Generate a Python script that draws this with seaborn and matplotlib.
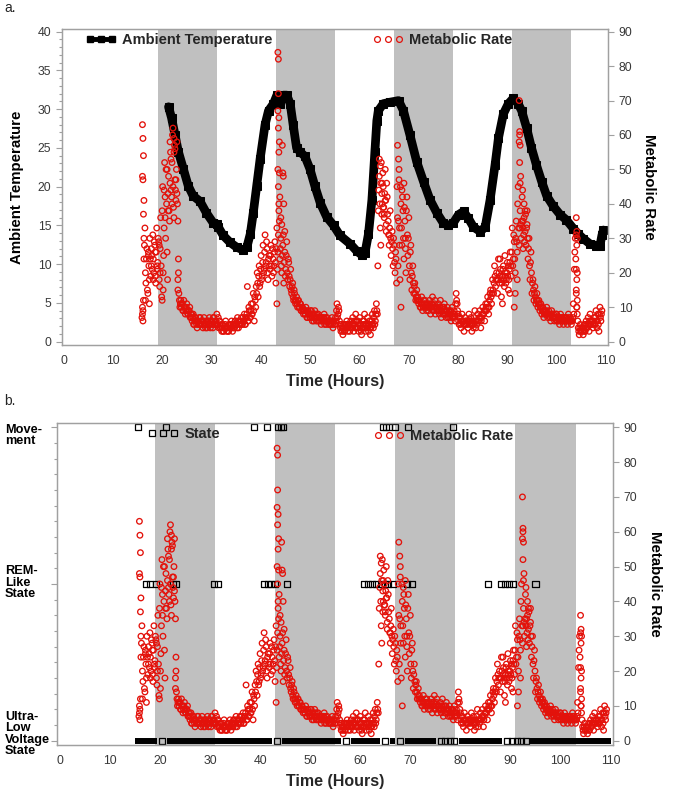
import numpy as np
import matplotlib
matplotlib.use("Agg")
import matplotlib.pyplot as plt
import matplotlib.ticker as mticker
from matplotlib.lines import Line2D
from matplotlib.transforms import blended_transform_factory
import seaborn as sns

# ---------------- data ----------------
night_starts = [19, 43, 67, 91]
night_length = 12

temp_time = [21.2, 21.8, 22.5, 23.2, 24.2, 25.2, 26.2, 27.6, 28.9, 30.3, 31.0, 31.3, 32.3, 33.7, 35.0,
             36.4, 37.1, 37.8, 38.4, 39.1, 39.8, 40.8, 41.5, 42.5, 43.2, 43.8, 44.5, 45.2, 45.9, 46.5,
             47.2, 47.9, 48.9, 49.9, 50.9, 52.0, 53.3, 54.7, 56.0, 58.1, 59.4, 60.4, 61.1, 61.8, 62.5,
             63.1, 63.5, 63.8, 64.8, 66.2, 67.9, 68.9, 70.2, 71.6, 73.0, 74.3, 75.7, 77.0, 78.0, 79.0,
             80.1, 81.1, 82.1, 83.1, 84.5, 85.5, 86.5, 87.5, 88.2, 89.2, 90.2, 91.2, 92.2, 92.9, 93.9,
             94.9, 95.9, 97.0, 98.0, 99.3, 100.7, 102.0, 103.4, 104.4, 105.4, 106.8, 108.1, 108.8, 109.2, 109.5]
temp_value = [30.3, 28.9, 26.7, 24.5, 22.3, 20.1, 18.8, 18.1, 16.6, 15.3, 15.2, 14.8, 13.7, 12.8, 12.2,
              11.8, 12.2, 13.9, 16.6, 20.1, 23.6, 28.0, 29.8, 30.7, 31.8, 30.7, 31.8, 31.8, 30.7, 28.0,
              25.0, 24.5, 23.9, 22.3, 20.1, 17.9, 16.1, 15.0, 13.7, 12.6, 11.7, 11.2, 11.5, 13.9, 18.3,
              24.5, 28.5, 29.8, 30.7, 30.9, 31.1, 29.8, 26.7, 23.2, 20.6, 18.3, 16.6, 15.3, 15.0, 15.3,
              16.4, 16.8, 15.9, 14.8, 14.2, 14.8, 18.3, 22.8, 26.3, 29.4, 30.7, 31.4, 30.7, 29.8, 27.6,
              25.0, 22.8, 20.6, 18.8, 17.5, 16.4, 15.7, 14.6, 13.9, 13.3, 12.6, 12.4, 12.4, 13.7, 14.4]

# metabolic rate, regular samples: series A starts at 15.8 h, series B at 15.9 h, both every 0.2 h
mr_step = 0.2
mr_start_a = 15.8
mr_values_a = [
    7, 9, 24, 33, 17, 27, 14, 22, 30, 19,
    25, 31, 20, 28, 17, 33, 23, 29, 16, 36,
    13, 45, 25, 52, 30, 40, 18, 48, 35, 55,
    42, 60, 39, 57, 44, 50, 40, 24, 12, 11,
    10, 11, 9, 10, 8, 10, 9, 8, 9, 7,
    7, 6, 8, 5, 7, 6, 4, 6, 5, 7,
    5, 6, 4, 7, 5, 6, 4, 6, 5, 6,
    5, 6, 4, 7, 5, 6, 8, 5, 4, 6,
    4, 3, 5, 3, 4, 6, 3, 4, 3, 5,
    4, 6, 3, 5, 4, 6, 5, 7, 4, 6,
    5, 7, 5, 6, 8, 5, 7, 16, 6, 9,
    7, 11, 8, 14, 6, 12, 16, 20, 13, 22,
    17, 25, 19, 28, 21, 31, 23, 27, 18, 25,
    21, 28, 19, 24, 22, 29, 17, 33, 26, 40,
    24, 30, 20, 28, 17, 26, 21, 29, 18, 23,
    16, 21, 14, 17, 12, 14, 11, 13, 10, 12,
    10, 11, 9, 10, 8, 9, 8, 9, 7, 8,
    8, 7, 9, 6, 8, 7, 8, 6, 7, 8,
    6, 7, 5, 7, 6, 8, 6, 5, 7, 6,
    5, 6, 5, 7, 4, 6, 5, 6, 11, 8,
    9, 5, 3, 4, 2, 5, 3, 4, 6, 3,
    5, 3, 6, 4, 7, 3, 5, 8, 4, 6,
    3, 7, 5, 2, 6, 4, 8, 3, 5, 7,
    3, 6, 2, 5, 8, 4, 9, 6, 11, 8,
    38, 48, 33, 52, 40, 45, 36, 50, 32, 42,
    35, 28, 38, 25, 32, 22, 28, 20, 24, 45,
    22, 50, 18, 40, 28, 38, 24, 35, 20, 42,
    25, 36, 18, 28, 15, 22, 14, 17, 12, 15,
    13, 11, 12, 10, 13, 9, 12, 10, 11, 9,
    11, 9, 12, 8, 10, 13, 9, 11, 8, 10,
    9, 11, 8, 12, 7, 10, 8, 11, 9, 7,
    10, 7, 9, 8, 6, 10, 7, 9, 6, 14,
    11, 8, 5, 7, 4, 8, 6, 3, 7, 5,
    6, 4, 8, 5, 7, 3, 6, 5, 9, 4,
    5, 8, 6, 9, 4, 7, 10, 8, 6, 11,
    9, 13, 8, 12, 15, 11, 18, 14, 22, 16,
    20, 14, 24, 17, 21, 13, 19, 22, 16, 20,
    18, 23, 15, 21, 26, 19, 33, 24, 29, 20,
    35, 26, 45, 28, 38, 30, 42, 27, 36, 32,
    28, 38, 24, 30, 18, 26, 14, 18, 12, 16,
    11, 14, 10, 12, 9, 11, 8, 10, 7, 9,
    8, 10, 7, 9, 8, 6, 9, 7, 8, 6,
    7, 8, 6, 7, 5, 8, 6, 7, 5, 7,
    6, 7, 5, 8, 6, 7, 5, 6, 11, 21,
    30, 14, 8, 4, 2, 5, 3, 4, 2, 5,
    3, 6, 4, 7, 3, 8, 5, 6, 4, 7,
    5, 9, 4, 8, 3, 10, 6, 9,
]
mr_start_b = 15.9
mr_values_b = [
    8, 12, 28, 20, 24, 15, 26, 18, 24, 27,
    21, 24, 29, 19, 26, 22, 30, 18, 27, 22,
    38, 20, 44, 36, 50, 26, 43, 38, 58, 44,
    52, 45, 55, 47, 41, 58, 35, 14, 10, 12,
    11, 9, 12, 10, 9, 11, 8, 9, 10, 8,
    8, 7, 5, 6, 7, 5, 6, 5, 7, 5,
    6, 5, 6, 5, 4, 5, 6, 5, 7, 4,
    6, 5, 7, 5, 6, 5, 5, 7, 6, 4,
    5, 4, 3, 4, 5, 4, 4, 3, 5, 4,
    5, 4, 5, 4, 6, 5, 4, 6, 5, 5,
    6, 5, 7, 6, 5, 7, 8, 6, 10, 7,
    9, 8, 11, 9, 13, 10, 14, 17, 19, 16,
    21, 18, 23, 20, 26, 22, 29, 20, 24, 22,
    25, 22, 27, 20, 26, 23, 27, 21, 31, 35,
    27, 22, 25, 31, 23, 19, 25, 20, 24, 19,
    18, 15, 16, 13, 15, 12, 12, 11, 12, 10,
    11, 9, 10, 9, 9, 8, 10, 7, 9, 8,
    7, 9, 7, 8, 6, 9, 7, 8, 6, 7,
    7, 6, 7, 6, 7, 5, 7, 6, 6, 5,
    6, 5, 6, 5, 6, 5, 7, 9, 7, 10,
    6, 4, 5, 3, 4, 3, 5, 5, 4, 5,
    4, 5, 4, 5, 5, 6, 4, 6, 6, 4,
    5, 4, 3, 4, 5, 6, 5, 5, 4, 5,
    5, 4, 4, 6, 5, 7, 5, 8, 9, 22,
    44, 40, 46, 37, 49, 39, 43, 41, 46, 37,
    31, 33, 30, 29, 27, 30, 23, 26, 17, 36,
    35, 28, 45, 33, 42, 30, 39, 27, 38, 31,
    30, 22, 26, 20, 19, 17, 16, 14, 13, 12,
    12, 12, 10, 11, 11, 10, 11, 12, 10, 10,
    10, 10, 11, 10, 11, 9, 10, 12, 10, 9,
    10, 9, 10, 9, 9, 8, 10, 9, 8, 9,
    8, 8, 7, 9, 8, 7, 8, 8, 11, 12,
    9, 6, 7, 5, 6, 6, 5, 5, 6, 6,
    5, 6, 6, 6, 5, 5, 4, 7, 6, 6,
    6, 6, 7, 7, 6, 8, 8, 9, 9, 10,
    11, 10, 10, 14, 13, 14, 15, 17, 19, 18,
    18, 18, 20, 19, 18, 17, 21, 18, 19, 17,
    20, 19, 18, 23, 22, 26, 22, 31, 24, 30,
    29, 40, 33, 33, 34, 35, 33, 31, 29, 37,
    33, 30, 27, 22, 23, 20, 17, 15, 14, 13,
    12, 12, 11, 11, 10, 10, 9, 9, 8, 8,
    9, 8, 8, 8, 7, 8, 8, 7, 7, 7,
    8, 6, 7, 6, 7, 6, 7, 6, 6, 6,
    7, 6, 6, 7, 6, 6, 6, 7, 8, 26,
    24, 10, 6, 3, 4, 3, 4, 3, 4, 3,
    5, 4, 5, 5, 6, 5, 6, 5, 6, 5,
    7, 6, 6, 5, 8, 7, 8,
]

# extra readings inside the dense bursts: (time h, metabolic rate)
mr_burst_16 = [(15.9, 63), (16.0, 59), (16.1, 54), (15.9, 48), (16.0, 47), (16.2, 41), (16.1, 37),
               (15.9, 10), (16.0, 6), (16.2, 30), (16.5, 12), (17.1, 25), (17.3, 11), (17.7, 22),
               (18.1, 18), (18.5, 26), (18.9, 21), (19.3, 28), (19.5, 20)]
mr_burst_22 = [(19.9, 12), (20.1, 15), (20.3, 33), (20.5, 42), (20.9, 50), (21.1, 38), (21.5, 46),
               (21.7, 53), (22.1, 62), (22.3, 59), (22.5, 56), (22.7, 47), (22.9, 43), (22.3, 36),
               (21.9, 40), (23.1, 18), (23.1, 15), (23.2, 20)]
mr_burst_43 = [(43.2, 11), (43.4, 84), (43.5, 82), (43.5, 72), (43.4, 67), (43.6, 65), (43.5, 62),
               (43.7, 58), (43.6, 55), (43.4, 50), (43.7, 49), (43.5, 45), (43.8, 42), (43.6, 38),
               (44.0, 36), (44.3, 57), (44.4, 49), (44.5, 48), (44.6, 40), (44.2, 34), (44.8, 32)]
mr_burst_65 = [(64.0, 53), (64.2, 51), (64.3, 28), (64.6, 46), (64.8, 39), (65.0, 37), (65.2, 41),
               (65.4, 34), (64.5, 43), (66.0, 31), (67.7, 57), (67.9, 53), (68.0, 47), (68.1, 33),
               (68.4, 10), (68.6, 44), (69.0, 46), (69.3, 30)]
mr_burst_92 = [(88.5, 24), (89.0, 11), (89.5, 25), (90.5, 14), (90.2, 22), (91.4, 10), (91.6, 14),
               (92.0, 18), (92.4, 70), (92.5, 61), (92.5, 60), (92.4, 58), (92.6, 57), (92.5, 52),
               (92.7, 48), (92.6, 46), (93.1, 44), (93.4, 40), (93.6, 38), (93.2, 35), (94.0, 34)]
mr_burst_104 = [(104.0, 36), (104.1, 32), (104.0, 31), (104.2, 30), (104.1, 28), (104.0, 21),
                (104.2, 20), (104.1, 18), (104.0, 15), (104.2, 12), (104.1, 10)]

# sleep / activity states
movement_times = [15.6, 21.2, 38.8, 41.3, 43.6, 44.1, 44.6, 64.5, 65.1, 65.7, 66.9, 69.5, 78.5]
rem_times = [17.2, 18.0, 19.2, 22.6, 23.3, 30.8, 31.6, 40.8, 41.5, 42.2, 43.0, 45.3,
             60.7, 61.5, 62.4, 63.2, 64.1, 64.9, 65.6, 66.5, 69.3, 70.4,
             85.5, 88.1, 88.9, 89.7, 90.5, 95.0]
ulv_spans = [(15.0, 19.5), (21.5, 42.4), (44.3, 56.1), (58.1, 64.0), (66.0, 67.0), (69.0, 75.2),
             (79.8, 88.3), (94.0, 110.0)]
ulv_single = [20.5, 43.35, 57.1, 65.0, 68.0, 76.1, 77.0, 77.9, 78.8, 89.3, 90.3, 91.3, 92.2, 93.1]
state_level = {"Movement": 2, "REM": 1, "ULV": 0}
state_labels = ["Move-\nment", "REM-\nLike\nState", "Ultra-\nLow\nVoltage\nState"]

# ---------------- assemble ----------------
mr_t = list(mr_start_a + mr_step * np.arange(len(mr_values_a)))
mr_t += list(mr_start_b + mr_step * np.arange(len(mr_values_b)))
mr_v = list(mr_values_a) + list(mr_values_b)
for burst in [mr_burst_16, mr_burst_22, mr_burst_43, mr_burst_65, mr_burst_92, mr_burst_104]:
    mr_t += [p[0] for p in burst]
    mr_v += [p[1] for p in burst]

# ---------------- style ----------------
sns.set_style("white")
plt.rcParams["font.family"] = ["Liberation Sans", "DejaVu Sans"]

W, H = 674, 793
fig = plt.figure(figsize=(W / 100, H / 100), dpi=100)

RED = "#e3120b"
BAND = "#c0c0c0"
SPINE = "#a0a0a0"
TICKLBL = "#383838"
LBL = dict(fontsize=10.8, fontweight="bold", color="black")


def style_axis(ax):
    for s in ax.spines.values():
        s.set_color(SPINE)
        s.set_linewidth(0.9)
    ax.tick_params(which="both", direction="out", color=SPINE, labelcolor=TICKLBL,
                   labelsize=8.8, width=0.8)
    ax.tick_params(which="major", length=4)
    ax.tick_params(which="minor", length=2)


mr_kw = dict(marker="o", s=16, facecolors="none", edgecolor=RED, linewidth=0.95, legend=False)

# ================= panel a =================
ax1 = fig.add_axes([61.7 / W, 1 - 345 / H, 546.6 / W, 316 / H])
ax1r = ax1.twinx()
for s in night_starts:
    ax1.axvspan(s, s + night_length, color=BAND, lw=0, zorder=0)

sns.lineplot(x=temp_time, y=temp_value, ax=ax1, estimator=None, sort=False, color="black",
             linewidth=6.3, marker="s", markersize=5.5, markeredgecolor="black", legend=False)
sns.scatterplot(x=mr_t, y=mr_v, ax=ax1r, **mr_kw)

ax1.set_xlim(-0.5, 110.5)
ax1.set_ylim(-0.43, 40.34)
ax1r.set_ylim(-0.97, 90.77)
ax1.xaxis.set_major_locator(mticker.MultipleLocator(10))
ax1.xaxis.set_minor_locator(mticker.MultipleLocator(2))
ax1.yaxis.set_major_locator(mticker.MultipleLocator(5))
ax1.yaxis.set_minor_locator(mticker.MultipleLocator(1))
ax1r.yaxis.set_major_locator(mticker.MultipleLocator(10))
for a in (ax1, ax1r):
    style_axis(a)
ax1.set_xlabel("Time (Hours)", fontsize=11.5, fontweight="bold", labelpad=5)
ax1.set_ylabel("Ambient Temperature", labelpad=10, **LBL)
ax1r.set_ylabel("Metabolic Rate", rotation=270, va="bottom", labelpad=7, **LBL)

# ================= panel b =================
ax2 = fig.add_axes([57.3 / W, 1 - 745 / H, 555.8 / W, 322 / H])
ax2r = ax2.twinx()
for s in night_starts:
    ax2.axvspan(s, s + night_length, color=BAND, lw=0, zorder=0)

ax2.hlines([state_level["ULV"]] * len(ulv_spans), [a for a, b in ulv_spans],
           [b for a, b in ulv_spans], color="black", lw=4.3, zorder=2)
sq = dict(marker="s", s=19, facecolors="none", edgecolor="black", linewidth=0.9, legend=False)
sns.scatterplot(x=ulv_single, y=[state_level["ULV"]] * len(ulv_single), ax=ax2, **sq)
sns.scatterplot(x=rem_times, y=[state_level["REM"]] * len(rem_times), ax=ax2, **sq)
sns.scatterplot(x=movement_times, y=[state_level["Movement"]] * len(movement_times), ax=ax2, **sq)
sns.scatterplot(x=mr_t, y=mr_v, ax=ax2r, **mr_kw)

ax2.set_xlim(-0.5, 110.5)
ax2.set_ylim(-1.23 / 45, 91.23 / 45)
ax2r.set_ylim(-1.23, 91.23)
ax2.xaxis.set_major_locator(mticker.MultipleLocator(10))
ax2.xaxis.set_minor_locator(mticker.MultipleLocator(2))
ax2.yaxis.set_major_locator(mticker.FixedLocator([0, 1, 2]))
ax2.yaxis.set_minor_locator(mticker.MultipleLocator(0.1))
ax2.set_yticklabels(["", "", ""])
ax2r.yaxis.set_major_locator(mticker.MultipleLocator(10))
for a in (ax2, ax2r):
    style_axis(a)
ax2.set_xlabel("Time (Hours)", fontsize=11.5, fontweight="bold", labelpad=5)
ax2.set_ylabel("")
ax2r.set_ylabel("Metabolic Rate", rotation=270, va="bottom", labelpad=8, **LBL)

tr = blended_transform_factory(fig.transFigure, ax2.transData)
for lvl, txt, off in zip([2, 1, 0], state_labels, [-0.052, 0.008, 0.043]):
    ax2.text(5 / W, lvl + off, txt, transform=tr, ha="left", va="center",
             fontsize=9.2, fontweight="bold", linespacing=0.95, color="black")

# ---------------- legends & panel letters ----------------
leg_kw = dict(loc="center left", frameon=False, numpoints=3, handlelength=2.1,
              handletextpad=0.4, borderpad=0, borderaxespad=0,
              prop=dict(weight="bold", size=10.5))
h_temp = Line2D([], [], color="black", lw=3.5, marker="s", markersize=4.5)
h_mr = Line2D([], [], ls="none", marker="o", markersize=4.2, markerfacecolor="none",
              markeredgecolor=RED, markeredgewidth=0.9)
h_state = Line2D([], [], ls="none", marker="s", markersize=4.5, markerfacecolor="none",
                 markeredgecolor="black", markeredgewidth=0.9)
fig.legend([h_temp], ["Ambient Temperature"], bbox_to_anchor=(86 / W, 1 - 40 / H), **leg_kw)
fig.legend([h_mr], ["Metabolic Rate"], bbox_to_anchor=(373 / W, 1 - 40 / H), **leg_kw)
fig.legend([h_state], ["State"], bbox_to_anchor=(148 / W, 1 - 434 / H), **leg_kw)
fig.legend([h_mr], ["Metabolic Rate"], bbox_to_anchor=(374 / W, 1 - 436 / H), **leg_kw)

fig.text(4 / W, 1 - 8 / H, "a.", fontsize=10, va="center", ha="left")
fig.text(4 / W, 1 - 401 / H, "b.", fontsize=10, va="center", ha="left")

fig.savefig("out.png", dpi=100)
